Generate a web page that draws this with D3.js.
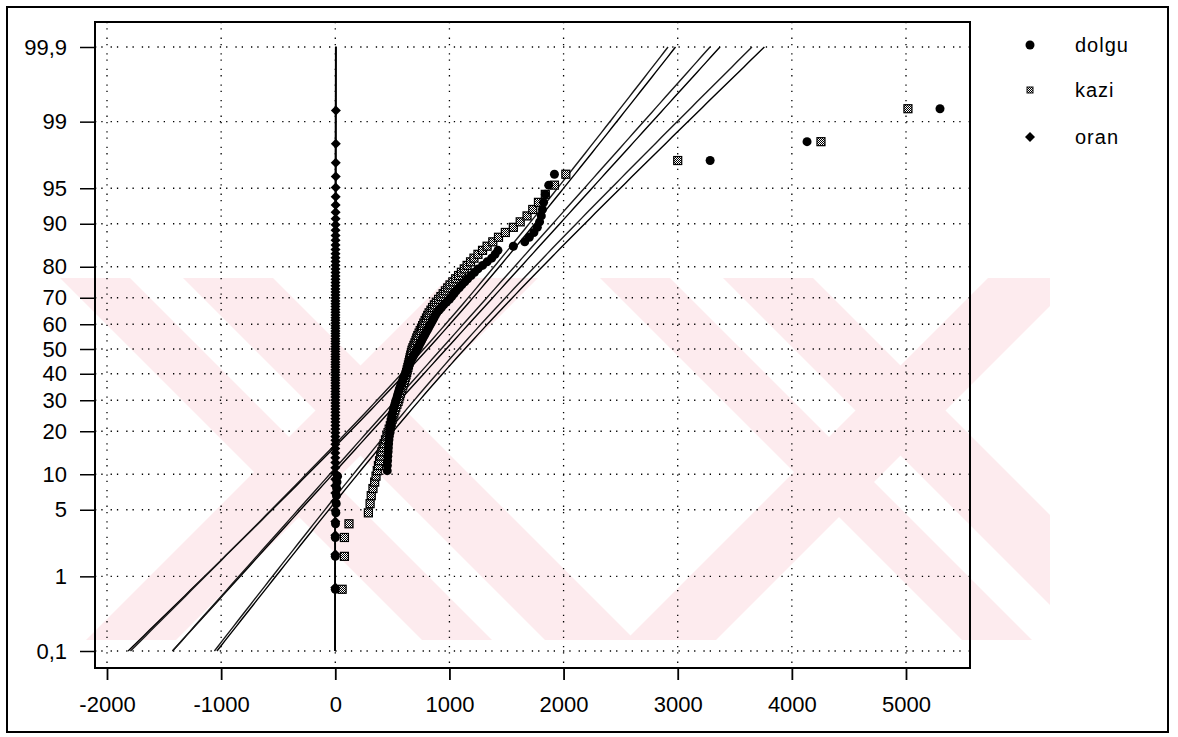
<!DOCTYPE html>
<html><head><meta charset="utf-8">
<script src="https://cdn.jsdelivr.net/npm/d3@7"></script>
<style>body{margin:0;background:#fff}svg text{font-family:"Liberation Sans",Arial,sans-serif}</style>
</head><body><svg id="c" width="1178" height="737"></svg>
<script>
// ---------- data ----------
const xTicks = [-2000, -1000, 0, 1000, 2000, 3000, 4000, 5000];
const yTicks = [0.1, 1, 5, 10, 20, 30, 40, 50, 60, 70, 80, 90, 95, 99, 99.9];
const yTickLabels = ["0,1", "1", "5", "10", "20", "30", "40", "50", "60", "70", "80", "90", "95", "99", "99,9"];
const seriesNames = ["dolgu", "kazi", "oran"];

const dolgu = [0, 0, 0, 2, 5, 8, 10, 12, 15, 20,
  455, 456, 458, 460, 463, 465, 467, 470, 473, 480,
  483, 486, 489, 493, 497, 502, 508, 515, 522, 530,
  537, 544, 551, 558, 565, 573, 582, 591, 600, 609,
  618, 627, 636, 645, 654, 665, 677, 689, 701, 713,
  724, 735, 746, 757, 768, 780, 792, 804, 816, 828,
  840, 852, 864, 876, 890, 910, 930, 950, 975, 1000,
  1020, 1040, 1060, 1085, 1108, 1135, 1160, 1190, 1220, 1250,
  1290, 1330, 1370, 1400, 1425, 1560, 1660, 1700, 1740, 1770,
  1790, 1805, 1815, 1825, 1840, 1870, 1920, 3284, 4133, 5298];

const kazi = [60, 80, 80, 120,
  290, 305, 315, 330, 345, 357, 368, 378, 388, 398,
  408, 418, 428, 440, 452, 462, 472, 482, 490, 498,
  506, 514, 522, 530, 540, 550, 557, 564, 571, 578,
  585, 592, 599, 606, 613, 620, 625, 630, 636, 641,
  646, 651, 656, 661, 667, 672, 680, 689, 698, 707,
  714, 723, 734, 744, 755, 765, 776, 787, 799, 810,
  822, 838, 852, 868, 885, 905, 925, 945, 965, 985,
  1005, 1030, 1055, 1080, 1105, 1130, 1155, 1185, 1215, 1250,
  1290, 1330, 1380, 1430, 1490, 1560, 1620, 1680, 1730, 1780,
  1840, 1920, 2020, 3000, 4255, 5017];

const oran = [0.12, 0.18, 0.22, 0.25, 0.28, 0.31, 0.33, 0.35, 0.37, 0.39,
  0.41, 0.43, 0.45, 0.47, 0.49, 0.5, 0.52, 0.54, 0.55, 0.57,
  0.58, 0.6, 0.61, 0.63, 0.64, 0.66, 0.67, 0.69, 0.7, 0.72,
  0.73, 0.75, 0.76, 0.78, 0.79, 0.81, 0.82, 0.84, 0.86, 0.87,
  0.89, 0.9, 0.92, 0.94, 0.95, 0.97, 0.99, 1.01, 1.03, 1.05,
  1.07, 1.09, 1.11, 1.13, 1.15, 1.17, 1.19, 1.21, 1.24, 1.26,
  1.28, 1.31, 1.33, 1.36, 1.39, 1.42, 1.45, 1.48, 1.51, 1.55,
  1.58, 1.62, 1.66, 1.7, 1.75, 1.8, 1.85, 1.9, 1.96, 2.02,
  2.1, 2.18, 2.27, 2.37, 2.48, 2.6, 2.75, 2.92, 3.1, 3.3,
  3.55, 3.85, 4.2, 4.6, 5.1];

// fitted normal parameters (mean, st.dev, 95% CI half width at the median)
const fitMu = [972, 928, 1.3];
const fitSigma = [776, 762, 1.0];
const fitCI = [162, 153, 0.2];

// ---------- helpers ----------
function probit(p) {
  const a = [-3.969683028665376e+01, 2.209460984245205e+02, -2.759285104469687e+02, 1.383577518672690e+02, -3.066479806614716e+01, 2.506628277459239e+00];
  const b = [-5.447609879822406e+01, 1.615858368580409e+02, -1.556989798598866e+02, 6.680131188771972e+01, -1.328068155288572e+01];
  const c = [-7.784894002430293e-03, -3.223964580411365e-01, -2.400758277161838e+00, -2.549732539343734e+00, 4.374664141464968e+00, 2.938163982698783e+00];
  const d = [7.784695709041462e-03, 3.224671290700398e-01, 2.445134137142996e+00, 3.754408661907416e+00];
  const pl = 0.02425, ph = 1 - pl;
  let q, r;
  if (p < pl) { q = Math.sqrt(-2 * Math.log(p)); return (((((c[0]*q+c[1])*q+c[2])*q+c[3])*q+c[4])*q+c[5]) / ((((d[0]*q+d[1])*q+d[2])*q+d[3])*q+1); }
  if (p <= ph) { q = p - 0.5; r = q*q; return (((((a[0]*r+a[1])*r+a[2])*r+a[3])*r+a[4])*r+a[5])*q / (((((b[0]*r+b[1])*r+b[2])*r+b[3])*r+b[4])*r+1); }
  q = Math.sqrt(-2 * Math.log(1 - p));
  return -(((((c[0]*q+c[1])*q+c[2])*q+c[3])*q+c[4])*q+c[5]) / ((((d[0]*q+d[1])*q+d[2])*q+d[3])*q+1);
}

// ---------- layout ----------
const svg = d3.select("#c");
const P = {l: 95, t: 22, r: 970, b: 668};
const x = d3.scaleLinear().domain([-2000, 5000]).range([107, 906]);
const zLim = probit(0.999);
const y = d3.scaleLinear().domain([-zLim, zLim]).range([651, 47]);
const FONT = 22;

// ---------- watermark (background decoration) ----------
const defs = svg.append("defs");
defs.append("clipPath").attr("id", "wm").append("rect")
  .attr("x", 40).attr("y", 278).attr("width", 1010).attr("height", 362);
const pat = defs.append("pattern").attr("id", "chk").attr("width", 2).attr("height", 2)
  .attr("patternUnits", "userSpaceOnUse");
pat.append("rect").attr("width", 2).attr("height", 2).attr("fill", "#fff");
pat.append("rect").attr("width", 1).attr("height", 1).attr("fill", "#000");
pat.append("rect").attr("x", 1).attr("y", 1).attr("width", 1).attr("height", 1).attr("fill", "#000");

const wm = svg.append("g").attr("clip-path", "url(#wm)").attr("fill", "#fdebee");
const Y0 = 278, Y1 = 640, H = Y1 - Y0;
function bslash(a, w) { return [[a, Y0], [a + w, Y0], [a + w + H, Y1], [a + H, Y1]]; }
function fslash(a, w) { return [[a, Y0], [a + w, Y0], [a + w - H, Y1], [a - H, Y1]]; }
[0, 540].forEach(dx => {
  [bslash(60 + dx, 70), bslash(183 + dx, 90), fslash(448 + dx, 90)]
    .forEach(pts => wm.append("polygon").attr("points", pts.map(p => p.join(",")).join(" ")));
});

// ---------- grid ----------
const grid = svg.append("g").attr("stroke", "#000").attr("stroke-width", 1.3)
  .attr("stroke-dasharray", "1.3,5,1.3,8");
grid.selectAll("line.v").data(xTicks).join("line").attr("class", "v")
  .attr("x1", d => x(d)).attr("x2", d => x(d)).attr("y1", P.t).attr("y2", P.b);
grid.selectAll("line.h").data(yTicks).join("line").attr("class", "h")
  .attr("x1", P.l).attr("x2", P.r).attr("y1", d => y(probit(d / 100))).attr("y2", d => y(probit(d / 100)));

// ---------- fit lines with confidence bands ----------
const zs = d3.range(-zLim, zLim + 1e-9, zLim / 60);
const lineGen = d3.line().x(d => x(d[0])).y(d => y(d[1]));
const fitG = svg.append("g").attr("fill", "none");
seriesNames.forEach((nm, k) => {
  [-1, 0, 1].forEach(sg => {
    const pts = zs.map(z => [fitMu[k] + fitSigma[k] * z + sg * fitCI[k] * Math.sqrt(1 + z * z / 2), z]);
    fitG.append("path").attr("d", lineGen(pts))
      .attr("stroke", k === 1 ? "#1a1a1a" : "#000").attr("stroke-width", k === 2 ? 1.6 : 1.4);
  });
});

// ---------- points ----------
function ranked(arr) {
  const sorted = arr.slice().sort((a, b) => a - b);
  const n = sorted.length;
  return sorted.map((v, i) => ({v, z: probit((i + 1 - 0.3) / (n + 0.4))}));
}
const diamond = "M0,-5L5,0L0,5L-5,0Z";
const ptsG = svg.append("g");
ptsG.append("g").selectAll("rect").data(ranked(kazi)).join("rect")
  .attr("x", d => x(d.v) - 4).attr("y", d => y(d.z) - 4).attr("width", 8).attr("height", 8)
  .attr("fill", "url(#chk)").attr("stroke", "#000").attr("stroke-width", 1.2);
ptsG.append("g").selectAll("circle").data(ranked(dolgu)).join("circle")
  .attr("cx", d => x(d.v)).attr("cy", d => y(d.z)).attr("r", 4.5).attr("fill", "#000");
ptsG.append("g").selectAll("path").data(ranked(oran)).join("path")
  .attr("transform", d => `translate(${x(d.v)},${y(d.z)})`).attr("d", diamond).attr("fill", "#000");

// ---------- frame & axes ----------
svg.append("rect").attr("x", P.l).attr("y", P.t).attr("width", P.r - P.l).attr("height", P.b - P.t)
  .attr("fill", "none").attr("stroke", "#000").attr("stroke-width", 2);

const yAxis = d3.axisLeft(y).tickValues(yTicks.map(p => probit(p / 100)))
  .tickFormat((d, i) => yTickLabels[i]).tickSize(15).tickPadding(13);
const gy = svg.append("g").attr("transform", `translate(${P.l},0)`).call(yAxis);
gy.select(".domain").remove();
gy.selectAll("line").attr("stroke-width", 1.5);
gy.selectAll("text").attr("font-size", FONT).attr("fill", "#000");

const xAxis = d3.axisBottom(x).tickValues(xTicks).tickFormat(d => String(d)).tickSize(12).tickPadding(16);
const gx = svg.append("g").attr("transform", `translate(0,${P.b})`).call(xAxis);
gx.select(".domain").remove();
gx.selectAll("line").attr("stroke-width", 1.8);
gx.selectAll("text").attr("font-size", FONT).attr("fill", "#000");

// ---------- legend ----------
const leg = svg.append("g").attr("transform", "translate(1030,0)");
const legY = [45, 90, 137];
leg.append("circle").attr("cx", 0).attr("cy", legY[0]).attr("r", 4.5).attr("fill", "#000");
leg.append("rect").attr("x", -3).attr("y", legY[1] - 3).attr("width", 6).attr("height", 6)
  .attr("fill", "url(#chk)").attr("stroke", "#111").attr("stroke-width", 1);
leg.append("path").attr("transform", `translate(0,${legY[2]})`).attr("d", diamond).attr("fill", "#000");
leg.selectAll("text").data(seriesNames).join("text")
  .attr("x", 45).attr("y", (d, i) => legY[i]).attr("dy", "0.35em")
  .attr("font-size", 20).attr("letter-spacing", 1).attr("fill", "#000").text(d => d);

// ---------- outer frame ----------
svg.append("rect").attr("x", 7).attr("y", 7).attr("width", 1161).attr("height", 725)
  .attr("fill", "none").attr("stroke", "#000").attr("stroke-width", 2);
</script>
</body></html>
